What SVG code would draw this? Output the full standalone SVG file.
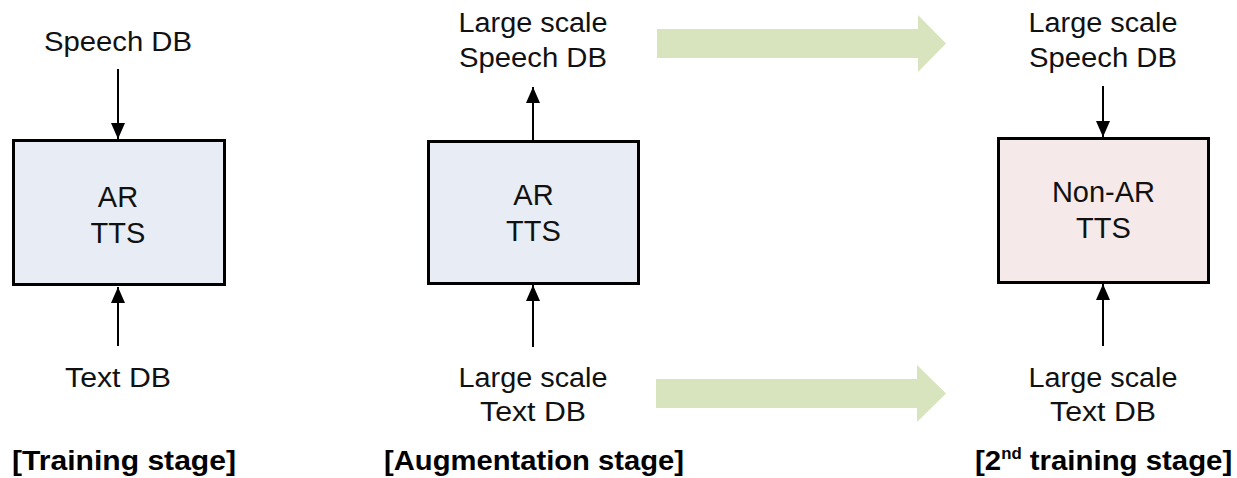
<svg xmlns="http://www.w3.org/2000/svg" width="1237" height="478" viewBox="0 0 1237 478">
<defs>
<style>
.lbl{font-family:"Liberation Sans",Arial,sans-serif;font-size:27px;fill:#111;text-anchor:middle}
.in{font-family:"Liberation Sans",Arial,sans-serif;font-size:29px;fill:#111;text-anchor:middle}
.ttl{font-family:"Liberation Sans",Arial,sans-serif;font-size:28px;font-weight:bold;fill:#000}
.box{stroke:#000;stroke-width:3}
.ar{fill:#E8EDF5}
.nar{fill:#F5EAE9}
.con{stroke:#000;stroke-width:2;fill:none;marker-end:url(#ah)}
.big{fill:#D7E4BD}
</style>
<marker id="ah" viewBox="0 0 16 14" markerWidth="16" markerHeight="14" refX="16" refY="7" orient="auto" markerUnits="userSpaceOnUse">
<path d="M0,0 L16,7 L0,14 Z" fill="#000"/>
</marker>
</defs>

<g id="connectors">
<line class="con" x1="118" y1="69" x2="118" y2="139"/>
<line class="con" x1="118" y1="346" x2="118" y2="287"/>
<line class="con" x1="533" y1="141" x2="533" y2="87"/>
<line class="con" x1="533" y1="347" x2="533" y2="285"/>
<line class="con" x1="1103" y1="86" x2="1103" y2="137"/>
<line class="con" x1="1103" y1="346" x2="1103" y2="284"/>
<polygon class="big" points="657,29 918,29 918,15 946,43.5 918,72 918,58 657,58"/>
<polygon class="big" points="656,379 917,379 917,365 946,393.5 917,422 917,408 656,408"/>
</g>

<g id="train-speech"><text class="lbl" x="118" y="51" textLength="148" lengthAdjust="spacingAndGlyphs">Speech DB</text></g>
<g id="train-tts">
<rect class="box ar" x="13.5" y="140.5" width="211" height="144"/>
<text class="in" x="118" y="207">AR</text>
<text class="in" x="118" y="243">TTS</text>
</g>
<g id="train-text"><text class="lbl" x="118" y="387" textLength="106" lengthAdjust="spacingAndGlyphs">Text DB</text></g>

<g id="aug-speech">
<text class="lbl" x="533" y="32" textLength="149" lengthAdjust="spacingAndGlyphs">Large scale</text>
<text class="lbl" x="533" y="67" textLength="148" lengthAdjust="spacingAndGlyphs">Speech DB</text>
</g>
<g id="aug-tts">
<rect class="box ar" x="428.5" y="141.5" width="210" height="142"/>
<text class="in" x="533.5" y="205">AR</text>
<text class="in" x="533.5" y="241">TTS</text>
</g>
<g id="aug-text">
<text class="lbl" x="533" y="387" textLength="149" lengthAdjust="spacingAndGlyphs">Large scale</text>
<text class="lbl" x="533" y="421" textLength="106" lengthAdjust="spacingAndGlyphs">Text DB</text>
</g>

<g id="nar-speech">
<text class="lbl" x="1103" y="32" textLength="149" lengthAdjust="spacingAndGlyphs">Large scale</text>
<text class="lbl" x="1103" y="67" textLength="148" lengthAdjust="spacingAndGlyphs">Speech DB</text>
</g>
<g id="nar-tts">
<rect class="box nar" x="998.5" y="138.5" width="210" height="144"/>
<text class="in" x="1103.5" y="202">Non-AR</text>
<text class="in" x="1103.5" y="238">TTS</text>
</g>
<g id="nar-text">
<text class="lbl" x="1103" y="387" textLength="149" lengthAdjust="spacingAndGlyphs">Large scale</text>
<text class="lbl" x="1103" y="421" textLength="106" lengthAdjust="spacingAndGlyphs">Text DB</text>
</g>

<g id="titles">
<text class="ttl" x="12" y="470" textLength="224" lengthAdjust="spacingAndGlyphs">[Training stage]</text>
<text class="ttl" x="384" y="470" textLength="300" lengthAdjust="spacingAndGlyphs">[Augmentation stage]</text>
<text class="ttl" transform="translate(975,470) scale(1.05,1)" x="0" y="0">[2<tspan font-size="16" dy="-11">nd</tspan><tspan dy="11"> training stage]</tspan></text>
</g>
</svg>
